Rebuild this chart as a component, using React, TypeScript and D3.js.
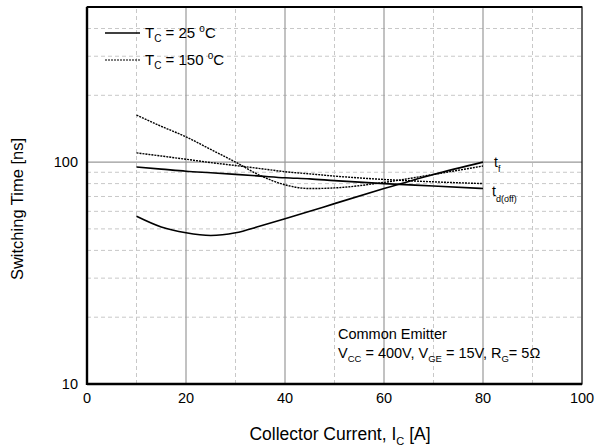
import React from 'react';
import * as d3 from 'd3';

const W = 596;
const H = 448;
const M = { left: 87, right: 14, top: 7, bottom: 64 };

// collector current (A)
const current = [10, 15, 20, 25, 30, 35, 40, 45, 50, 60, 70, 80];
// switching times (ns)
const tf25 = [57, 51, 48, 46.7, 48, 51.5, 55.5, 60, 65, 76, 88, 100];
const tdoff25 = [95, 93, 91, 89.5, 88, 86.5, 85, 84, 82.5, 80, 78, 76];
const tf150 = [163, 145, 130, 114, 100, 87, 79, 76, 76.5, 81, 88, 96];
const tdoff150 = [110, 106.5, 103, 99.5, 96.5, 93.5, 90.5, 88.5, 86.5, 83.5, 81.5, 80];

const xTicks = [0, 20, 40, 60, 80, 100];
const xMinor = [10, 30, 50, 70, 90];
const yTicks = [10, 100];
const yMinor = [20, 30, 40, 50, 60, 70, 80, 90, 200, 300, 400];

const FONT = 'Liberation Sans, Arial, sans-serif';

export default function App() {
  const x = d3.scaleLinear().domain([0, 100]).range([M.left, W - M.right]);
  const y = d3.scaleLog().domain([10, 500]).range([H - M.bottom, M.top]);

  const line = d3
    .line<number>()
    .x((_, i) => x(current[i]))
    .y((d) => y(d))
    .curve(d3.curveMonotoneX);

  const x0 = x(0), x1 = x(100), y0 = y(10), y1 = y(500);
  const solid = { fill: 'none', stroke: '#000', strokeWidth: 1.6 };
  const dotted = { fill: 'none', stroke: '#000', strokeWidth: 1.4, strokeDasharray: '2,1' };

  return (
    <svg width={W} height={H} style={{ position: 'absolute', left: 0, top: 0 }} fontFamily={FONT}>
      <rect width={W} height={H} fill="#fff" />
      {/* minor grid */}
      {xMinor.map((v) => (
        <line key={'xm' + v} x1={x(v)} x2={x(v)} y1={y0} y2={y1} stroke="#c8c8c8" strokeDasharray="4,3" />
      ))}
      {yMinor.map((v) => (
        <line key={'ym' + v} x1={x0} x2={x1} y1={y(v)} y2={y(v)} stroke="#c8c8c8" strokeDasharray="4,3" />
      ))}
      {/* major grid */}
      {xTicks.slice(1, -1).map((v) => (
        <line key={'xg' + v} x1={x(v)} x2={x(v)} y1={y0} y2={y1} stroke="#999" strokeWidth={1.2} />
      ))}
      <line x1={x0} x2={x1} y1={y(100)} y2={y(100)} stroke="#999" strokeWidth={1.2} />

      {/* curves */}
      <path d={line(tf25) || ''} {...solid} />
      <path d={line(tdoff25) || ''} {...solid} />
      <path d={line(tf150) || ''} {...dotted} />
      <path d={line(tdoff150) || ''} {...dotted} />

      {/* frame */}
      <rect x={x0} y={y1} width={x1 - x0} height={y0 - y1} fill="none" stroke="#000" strokeWidth={1.2} />
      <line x1={x0} x2={x0} y1={y1} y2={y0 + 1} stroke="#000" strokeWidth={2.4} />
      <line x1={x0} x2={x1} y1={y0} y2={y0} stroke="#000" strokeWidth={2.4} />
      <line x1={x0} x2={x1} y1={y1} y2={y1} stroke="#000" strokeWidth={2} />

      {/* tick labels */}
      {xTicks.map((v) => (
        <text key={'xt' + v} x={x(v)} y={y0 + 19} fontSize={14.5} textAnchor="middle">{v}</text>
      ))}
      {yTicks.map((v) => (
        <text key={'yt' + v} x={x0 - 9} y={y(v) + 5} fontSize={14.5} textAnchor="end">{v}</text>
      ))}

      {/* axis titles */}
      <text x={340} y={440} fontSize={17.5} textAnchor="middle">
        Collector Current, I<tspan fontSize={11} dy={5}>C</tspan><tspan dy={-5}> [A]</tspan>
      </text>
      <text transform={`translate(23,209) rotate(-90)`} fontSize={16.5} textAnchor="middle">
        Switching Time [ns]
      </text>

      {/* legend */}
      <line x1={105} x2={140} y1={33} y2={33} {...solid} />
      <text x={145} y={38} fontSize={15}>
        T<tspan fontSize={10} dy={4}>C</tspan><tspan dy={-4}> = 25 </tspan><tspan fontSize={10} dy={-6}>o</tspan><tspan dy={6}>C</tspan>
      </text>
      <line x1={105} x2={140} y1={60} y2={60} {...dotted} strokeWidth={1.1} />
      <text x={145} y={65} fontSize={15}>
        T<tspan fontSize={10} dy={4}>C</tspan><tspan dy={-4}> = 150 </tspan><tspan fontSize={10} dy={-6}>o</tspan><tspan dy={6}>C</tspan>
      </text>

      {/* curve labels */}
      <text x={x(80) + 11} y={y(100) + 5} fontSize={14}>
        t<tspan fontSize={9} dy={5}>f</tspan>
      </text>
      <text x={x(80) + 9} y={y(76) + 7} fontSize={14}>
        t<tspan fontSize={9} dy={6}>d(off)</tspan>
      </text>

      {/* annotation */}
      <text x={338} y={339} fontSize={14.5}>Common Emitter</text>
      <text x={338} y={358} fontSize={14.5}>
        V<tspan fontSize={9.5} dy={4}>CC</tspan><tspan dy={-4}> = 400V, V</tspan>
        <tspan fontSize={9.5} dy={4}>GE</tspan><tspan dy={-4}> = 15V, R</tspan>
        <tspan fontSize={9.5} dy={4}>G</tspan><tspan dy={-4}>= 5Ω</tspan>
      </text>
    </svg>
  );
}
